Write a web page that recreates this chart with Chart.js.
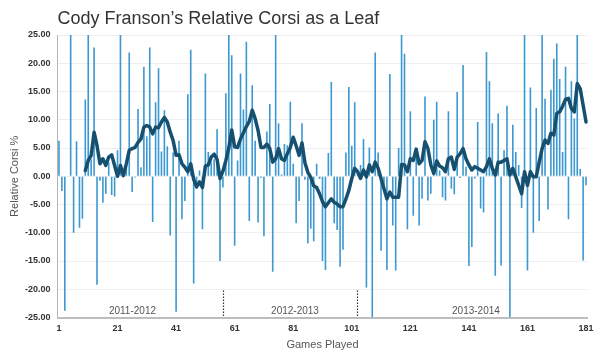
<!DOCTYPE html>
<html><head><meta charset="utf-8">
<script src="https://cdn.jsdelivr.net/npm/chart.js@4.4.1/dist/chart.umd.min.js"></script>
<style>html,body{margin:0;padding:0;background:#fff;}#wrap{width:600px;height:356px;position:relative;}</style>
</head><body><div id="wrap"><canvas id="c"></canvas></div>
<script>
const titleText = 'Cody Franson’s Relative Corsi as a Leaf';
const games = Array.from({length: 181}, (_, i) => String(i + 1));
const xTickLabels = ['1','21','41','61','81','101','121','141','161','181'];
const seasonLabels = ['2011-2012', '2012-2013', '2013-2014'];
const seasonCenters = [26.1, 81.6, 143.4];
const seasonBreaks = [56.9, 102.7];

const relCorsi = [
 6.3, -2.6, -23.8, 0, 25, -10, 6.2, -9.1, -7.5, 13.6,
 25, 3, 22.8, -19.2, -0.8, -4.7, -3.1, 2.5, -3.3, -3.6,
 4.6, 25, 0.5, 2.0, 21.9, -2.8, -0.2, 11.9, 1.6, 19.4,
 7.1, 22.8, -8.1, 13.1, 19.1, 4.4, 11.7, 5.3, -10.5, 4.2,
 -24, 6.3, -7.6, -4.4, 14.5, 22.4, -19, -1.5, 1.0, -9.4,
 18.2, 4.3, 2.5, 3.0, 8.3, -15, -2, 14.7, 25, 21.4,
 -12.3, 2.8, 18.2, 11.8, 23.8, -7.9, 16.1, 6.3, -8.2, -0.3,
 -10.6, 7.9, 12.8, -16.9, 25, 9.4, 0.3, 5.7, 5.5, 13.2,
 2.2, -8.3, -4.4, 9.4, -0.6, -11.9, -9.3, -11.5, 2.2, -0.5,
 -15, -16.6, 4.1, 16.7, -8.3, -9.5, -16, -13, 4.2, 15.8,
 5.4, 13.1, 0.5, 2.0, 6.6, -19.7, 5.1, -25, 21.9, 4.2,
 -13.2, -2, -16.6, 18.1, -8.7, -16.7, 5, 25, 21.7, -9.4,
 11.5, -7, 4.5, -8.7, -4, 14.1, -4.3, -3.1, 10, 13.2,
 1.0, -3.7, -4.3, 11.5, -2.2, -3.2, 14.9, -0.3, 19.7, 1.7,
 -15.9, -12.5, -0.4, 9.6, -5.7, -6.4, 22, 16.8, 9.4, -17.6,
 11.1, -15.8, 4.6, 12.5, -25, 9.1, 4.3, 2.0, -5.6, 25,
 -16.7, 15.7, -10, 12.1, -7.9, 25, 13.7, -5.9, 15.3, 20.8,
 23.5, 17.2, 4.3, 19.4, -7.6, 16.8, 10.2, 25, 1.3, -14.9,
 -1.6
];

const rollingAvg = [
 null, null, null, null, null, null, null, null, null,
 1.0, 2.8, 3.7, 7.8, 5.4, 2.2, 3.1, 1.9, 3.4, 3.8,
 1.9, 0.0, 1.9, 0.1, 2.2, 4.6, 4.9, 5.1, 6.0, 6.6,
 8.7, 9.0, 8.7, 7.5, 8.7, 8.6, 9.6, 10.4, 9.6, 7.8,
 6.3, 3.7, 3.8, 2.2, 1.6, 0.8, 2.2, -0.5, -1.9, -1.0,
 -2.0, 1.8, 2.0, 3.4, 3.9, 3.0, -0.4, 0.9, 2.8, 5.0,
 8.2, 5.2, 5.1, 6.6, 7.7, 8.8, 9.7, 11.7, 10.2, 8.1,
 5.1, 5.1, 5.7, 4.9, 2.5, 3.1, 4.9, 3.1, 2.8, 4.0,
 5.1, 6.9, 5.4, 3.7, 5.9, 2.4, 0.7, -0.2, -1.7, -2.0,
 -3.1, -4.5, -5.4, -4.7, -4.0, -4.6, -4.9, -5.4, -5.4, -4.0,
 -2.5, -0.4, 1.4, 0.8, -0.4, 1.1, -0.1, 2.0, 0.8, 2.5,
 1.4, -0.4, -2.2, -4.0, -2.8, -3.7, -3.7, -3.7, 2.1, 2.0,
 0.8, 3.1, 2.8, 4.8, 2.2, 2.8, 6.1, 4.9, 2.0, 0.5,
 2.7, 1.8, 1.5, 0.8, 3.1, 3.4, 1.2, 3.4, 4.0, 4.9,
 3.1, 2.0, 1.1, 1.7, 1.4, 1.1, 0.8, 1.7, 3.1, 1.4,
 0.2, 2.5, 2.5, 2.8, 3.1, 0.2, 1.4, -0.1, -1.6, -3.1,
 0.8, -1.6, 0.8, -0.1, -0.1, 2.5, 4.9, 6.4, 5.8, 7.6,
 7.3, 11.1, 11.4, 12.4, 13.6, 13.8, 12.0, 11.4, 16.4, 15.5,
 12.6, 9.6
];

const FONT = "'Liberation Sans', Arial, sans-serif";
Chart.defaults.font.family = FONT;

const seasonPlugin = {
  id: 'seasons',
  afterDatasetsDraw(chart) {
    const {ctx, scales: {x, y}} = chart;
    ctx.save();
    ctx.strokeStyle = '#333';
    ctx.lineWidth = 1.2;
    ctx.setLineDash([1.5, 1.5]);
    seasonBreaks.forEach(g => {
      const px = Math.round(x.getPixelForValue(g - 1)) + 0.5;
      ctx.beginPath();
      ctx.moveTo(px, y.getPixelForValue(-20.2));
      ctx.lineTo(px, y.getPixelForValue(-25));
      ctx.stroke();
    });
    ctx.setLineDash([]);
    ctx.fillStyle = '#555';
    ctx.font = '10px ' + FONT;
    ctx.textAlign = 'center';
    ctx.textBaseline = 'middle';
    seasonLabels.forEach((t, i) => {
      ctx.fillText(t, x.getPixelForValue(seasonCenters[i] - 1), y.getPixelForValue(-23.9));
    });
    ctx.restore();
  }
};

new Chart(document.getElementById('c'), {
  type: 'bar',
  data: {
    labels: games,
    datasets: [
      {
        type: 'line', data: rollingAvg, borderColor: '#17506f', borderWidth: 3.5,
        pointRadius: 0, tension: 0, fill: false, order: 0, borderJoinStyle: 'round', borderCapStyle: 'round'
      },
      {
        type: 'bar', data: relCorsi, backgroundColor: '#3c98d0',
        barPercentage: 0.55, categoryPercentage: 1.0, order: 1
      }
    ]
  },
  options: {
    responsive: true, maintainAspectRatio: false, animation: false,
    layout: {padding: {left: 0, right: 12.5, top: 0, bottom: 0}},
    plugins: {
      legend: {display: false},
      tooltip: {enabled: false},
      title: {
        display: true, text: titleText, align: 'start', fullSize: false,
        color: '#333', font: {size: 18, weight: 'normal'}, padding: {top: 8, bottom: 5.4}
      }
    },
    scales: {
      x: {
        afterFit: s => { s.height = 38.5; },
        grid: {color: 'rgba(0,0,0,0)', drawTicks: false},
        border: {display: true, color: '#bdbdbd', width: 2},
        ticks: {
          autoSkip: false, maxRotation: 0, minRotation: 0, padding: 6,
          color: '#333', font: {size: 9, weight: 'bold'},
          callback: function(val, idx) { return xTickLabels.includes(games[idx]) ? games[idx] : null; }
        },
        title: {display: true, text: 'Games Played', color: '#555', font: {size: 11}, padding: {top: 0, bottom: 4}}
      },
      y: {
        min: -25, max: 25,
        afterFit: s => { s.width = 57.5; },
        grid: {color: '#efefef', drawTicks: false},
        border: {display: true, color: '#b5b5b5', width: 1},
        ticks: {stepSize: 5, padding: 7, color: '#333', font: {size: 9, weight: 'bold'},
          callback: v => v.toFixed(2)},
        title: {display: true, text: 'Relative Corsi %', color: '#555', font: {size: 11}, padding: {top: 8, bottom: 0}}
      }
    }
  },
  plugins: [seasonPlugin]
});
</script>
</body></html>
